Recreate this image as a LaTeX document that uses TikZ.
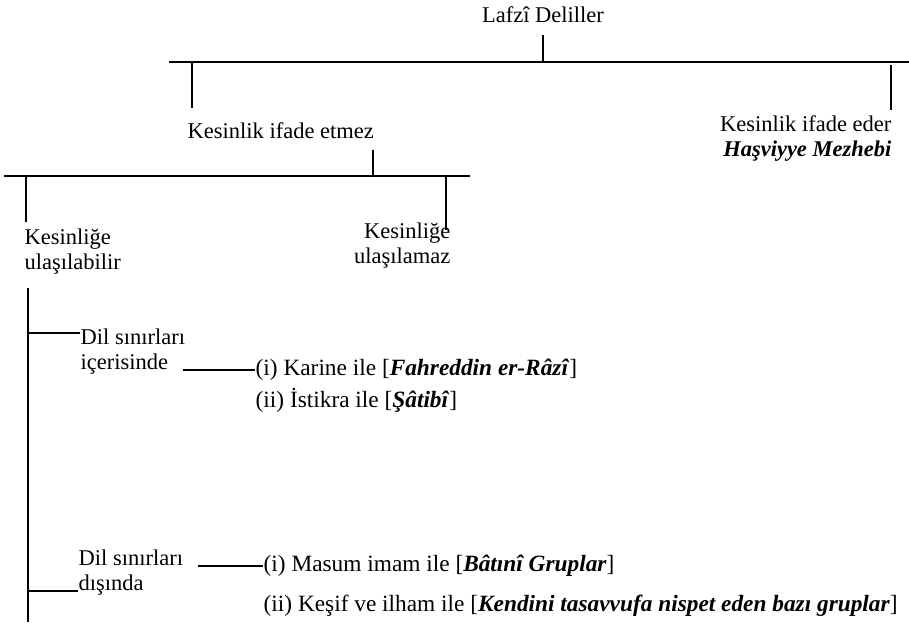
\documentclass[tikz,border=0pt]{standalone}
\usepackage{fontspec}
\setmainfont{Liberation Serif}
\tikzset{
  item/.style={anchor=west,font=\fontsize{14}{15}\selectfont}
}
\begin{document}
\begin{tikzpicture}[x=0.6pt,y=-0.6pt,line width=0.8pt,
  every node/.style={inner sep=0pt,font=\fontsize{13.5}{15}\selectfont}]
  \useasboundingbox (0,0) rectangle (909,626);

  \node at (543,15) (root) {Lafzî Deliller};
  \node[anchor=west] at (187,131) (etmez) {Kesinlik ifade etmez};
  \node[anchor=east,align=right] at (892,139) (eder) {Kesinlik ifade eder\\\textbf{\textit{Haşviyye Mezhebi}}};

  \node[anchor=west,align=left] at (24,252) (ulasir) {Kesinliğe\\ulaşılabilir};
  \node[anchor=east,align=right] at (451,246) (ulasamaz) {Kesinliğe\\ulaşılamaz};

  \node[anchor=west,align=left] at (80,352) (icinde) {Dil sınırları\\içerisinde};
  \node[item] at (255,370) (karine) {(i) Karine ile [\textbf{\textit{Fahreddin er-Râzî}}]};
  \node[item] at (255,400) (istikra) {(ii) İstikra ile [\textbf{\textit{Şâtibî}}]};

  \node[anchor=west,align=left] at (78,573) (disinda) {Dil sınırları\\dışında};
  \node[item] at (263,566) (masum) {(i) Masum imam ile [\textbf{\textit{Bâtınî Gruplar}}]};
  \node[item] at (263,606) (kesif) {(ii) Keşif ve ilham ile [\textbf{\textit{Kendini tasavvufa nispet eden bazı gruplar}}]};

  % first level
  \coordinate (bar1l) at (169,62);
  \coordinate (bar1r) at (909,62);
  \draw (bar1l) -- (bar1r);
  \draw (root) ++(0,20) -- (root |- bar1l);
  \draw (192,62) -- (192,108);
  \draw (891,65) -- (891,110);

  % second level
  \coordinate (bar2l) at (4,176);
  \coordinate (bar2r) at (470,176);
  \draw (bar2l) -- (bar2r);
  \draw (373,150) -- (373,176);
  \draw (26,176) -- (26,222);
  \draw (446,176) -- (446,230);

  % third level
  \draw (28,288) -- (28,622);
  \draw (28,333) -- (icinde.west |- 28,333);
  \draw (183,370) -- (karine.west);
  \draw (28,591) -- (disinda.west |- 28,591);
  \draw (198,566) -- (masum.west);
\end{tikzpicture}
\end{document}
